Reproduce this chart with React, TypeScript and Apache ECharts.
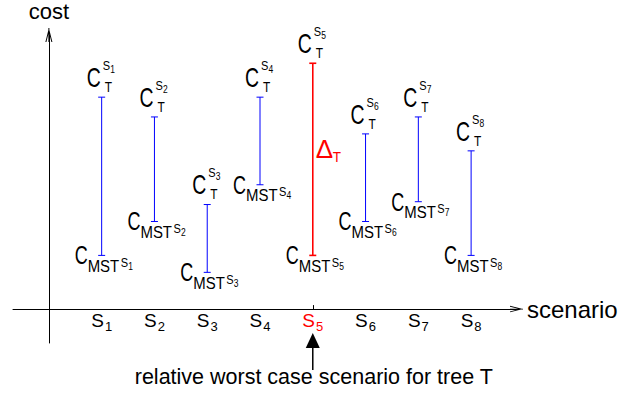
import React, { useEffect, useRef } from "react";
import * as echarts from "echarts";

// ---- data ----
const scenarios = ["S1", "S2", "S3", "S4", "S5", "S6", "S7", "S8"];
const treeCost = [75, 68, 37, 75, 87, 62, 68, 56]; // C_T^{Si}
const mstCost = [19, 31, 13, 44, 19, 31, 38, 19]; // C_MST^{Si}
const xTickValues = [1, 2, 3, 4, 5, 6, 7, 8];
const yName = "cost";
const xName = "scenario";
const annotationText = "relative worst case scenario for tree T";

const FONT = "'Liberation Sans', Arial, Helvetica, sans-serif";
const BLUE = "#0000ff";
const RED = "#ff0000";
const ARROW = "path://M3.5,0L7,14L6,14L3.5,4L1,14L0,14Z M3,0L4,0L4,14L3,14Z";

// worst case = largest regret (C_T - C_MST)
let worstIdx = 0;
treeCost.forEach((t, i) => {
  if (t - mstCost[i] > treeCost[worstIdx] - mstCost[worstIdx]) worstIdx = i;
});
const worstX = xTickValues[worstIdx];

const txt = (
  text: string,
  x: number,
  baseline: number,
  size: number,
  scaleX: number,
  fill = "#000",
  align = "left"
) => ({
  type: "text",
  x,
  y: baseline - 0.35 * size,
  scaleX,
  scaleY: 1,
  silent: true,
  style: {
    text,
    x: 0,
    y: 0,
    fontSize: size,
    fontFamily: FONT,
    fill,
    align,
    verticalAlign: "middle",
  },
});

const renderBar = (params: any, api: any) => {
  const idx = params.dataIndex;
  const xv = api.value(0);
  const lo = api.value(1);
  const hi = api.value(2);
  const top = api.coord([xv, hi]);
  const bot = api.coord([xv, lo]);
  const cx = top[0];
  const ty = top[1];
  const by = bot[1];
  const worst = idx === worstIdx;
  const color = worst ? RED : BLUE;
  const lw = worst ? 1.6 : 1;
  const sub = scenarios[idx].slice(1);
  const children: any[] = [
    { type: "line", shape: { x1: cx, y1: ty, x2: cx, y2: by }, style: { stroke: color, lineWidth: lw } },
    { type: "line", shape: { x1: cx - 3.5, y1: ty, x2: cx + 3.5, y2: ty }, style: { stroke: color, lineWidth: lw } },
    { type: "line", shape: { x1: cx - 3.5, y1: by, x2: cx + 3.5, y2: by }, style: { stroke: color, lineWidth: lw } },
    txt("C", cx - 15, ty - 10, 27, 0.72),
    txt("T", cx + 3, ty - 5, 14, 0.85),
    txt("S", cx + 1, ty - 27, 13, 0.85),
    txt(sub, cx + 8.5, ty - 24, 10, 0.85),
    txt("C", cx - 27, by + 9, 25, 0.72),
    txt("MST", cx - 14, by + 16.5, 17, 0.88),
    txt("S", cx + 19, by + 11.5, 13, 0.85),
    txt(sub, cx + 26.5, by + 14.5, 10, 0.85),
  ];
  if (worst) {
    const my = (ty + by) / 2;
    children.push(txt("Δ", cx + 3, my - 1.5, 26, 1, RED));
    children.push(txt("T", cx + 20, my + 2.5, 15, 0.9, RED));
  }
  return { type: "group", children };
};

const renderNote = (_params: any, api: any) => {
  const p = api.coord([api.value(0), 0]);
  const cx = p[0];
  const y0 = p[1];
  return {
    type: "group",
    children: [
      {
        type: "polygon",
        shape: { points: [[cx, y0 + 24], [cx - 7, y0 + 39], [cx + 7, y0 + 39]] },
        style: { fill: "#000" },
      },
      { type: "line", shape: { x1: cx, y1: y0 + 38, x2: cx, y2: y0 + 61 }, style: { stroke: "#000", lineWidth: 1.5 } },
      txt(annotationText, cx + 1, y0 + 75, 21.5, 1, "#000", "center"),
    ],
  };
};

const labelStyle = (color: string) => ({
  s: { fontSize: 19, fontFamily: FONT, color, lineHeight: 22, verticalAlign: "top" },
  d: { fontSize: 13, fontFamily: FONT, color, lineHeight: 13, padding: [9, 0, 0, 1], verticalAlign: "top" },
});
const blk = labelStyle("#000");
const red = labelStyle(RED);

export default function App() {
  const ref = useRef<HTMLDivElement>(null);
  useEffect(() => {
    if (!ref.current) return;
    const chart = echarts.init(ref.current, null, { renderer: "svg" });
    chart.setOption({
      animation: false,
      backgroundColor: "#fff",
      grid: { left: 13, right: 124.5, top: 35, bottom: 51, containLabel: false, outerBoundsMode: "none" },
      xAxis: {
        type: "value",
        min: -0.68,
        max: 8.86,
        name: xName,
        nameLocation: "end",
        nameGap: 10.5,
        nameTextStyle: { fontSize: 24, fontFamily: FONT, color: "#000" },
        axisLine: {
          show: true,
          onZero: true,
          lineStyle: { color: "#000", width: 1 },
          symbol: ["none", ARROW],
          symbolSize: [7, 13],
        },
        axisTick: { show: true, customValues: [worstX], inside: true, length: 4, lineStyle: { color: "#000" } },
        axisLabel: {
          show: true,
          customValues: xTickValues,
          margin: -32,
          formatter: (v: number) => {
            const i = Math.round(v) - 1;
            const name = scenarios[i];
            if (!name) return "";
            const s = name[0];
            const d = name.slice(1);
            return i === worstIdx ? `{sR|${s}}{dR|${d}}` : `{s|${s}}{d|${d}}`;
          },
          rich: { s: blk.s, d: blk.d, sR: red.s, dR: red.d },
        },
        splitLine: { show: false },
      },
      yAxis: {
        type: "value",
        min: -12,
        max: 97,
        name: yName,
        nameLocation: "end",
        nameGap: 13,
        nameTextStyle: { fontSize: 22, fontFamily: FONT, color: "#000" },
        axisLine: {
          show: true,
          onZero: true,
          lineStyle: { color: "#000", width: 1 },
          symbol: ["none", ARROW],
          symbolSize: [7, 14],
        },
        axisTick: { show: false },
        axisLabel: { show: false },
        splitLine: { show: false },
      },
      series: [
        {
          type: "custom",
          renderItem: renderBar,
          data: scenarios.map((_, i) => [xTickValues[i], mstCost[i], treeCost[i]]),
          clip: false,
          z: 3,
        },
        {
          type: "custom",
          renderItem: renderNote,
          data: [[worstX, 0]],
          clip: false,
          z: 3,
        },
      ],
    });
    return () => chart.dispose();
  }, []);
  return (
    <div
      ref={ref}
      style={{ position: "absolute", left: 0, top: 0, width: 641, height: 394, background: "#fff" }}
    />
  );
}
